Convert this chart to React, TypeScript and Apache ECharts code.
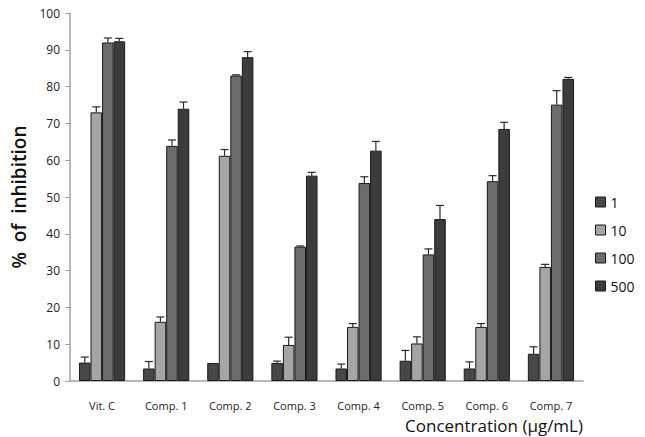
import React, { useEffect, useRef } from "react";
import * as echarts from "echarts";

const categories = ["Vit. C", "Comp. 1", "Comp. 2", "Comp. 3", "Comp. 4", "Comp. 5", "Comp. 6", "Comp. 7"];
const seriesNames = ["1", "10", "100", "500"];
const values1 = [5.0, 3.4, 4.9, 4.9, 3.4, 5.5, 3.4, 7.4];
const values10 = [73.0, 16.1, 61.2, 9.8, 14.7, 10.2, 14.7, 31.0];
const values100 = [92.0, 63.9, 83.0, 36.5, 53.8, 34.4, 54.3, 75.1];
const values500 = [92.3, 74.0, 88.0, 55.8, 62.6, 44.0, 68.5, 82.1];
const err1 = [1.5, 1.9, 0, 0.5, 1.2, 2.8, 1.8, 1.9];
const err10 = [1.5, 1.3, 1.7, 2.1, 0.9, 1.8, 0.9, 0.7];
const err100 = [1.2, 1.6, 0.2, 0.2, 1.7, 1.5, 1.5, 3.8];
const err500 = [0.8, 1.8, 1.5, 0.9, 2.5, 3.7, 1.8, 0.4];
const yTicks = [0, 10, 20, 30, 40, 50, 60, 70, 80, 90, 100];

const allValues = [values1, values10, values100, values500];
const allErrors = [err1, err10, err100, err500];
const colors = ["#484848", "#a5a5a5", "#6c6c6c", "#3c3c3c"];
const CAT_GAP = 0.28;
const FONT = "'Open Sans', 'Noto Sans', sans-serif";

export default function App() {
  const ref = useRef<HTMLDivElement>(null);
  useEffect(() => {
    if (!ref.current) return;
    const chart = echarts.init(ref.current, null, { renderer: "svg" });
    const barSeries = seriesNames.map((name, s) => ({
      name,
      type: "bar",
      data: allValues[s],
      barGap: "0%",
      barCategoryGap: CAT_GAP * 100 + "%",
      itemStyle: { color: colors[s], borderColor: "#1a1a1a", borderWidth: 1 },
      z: 2,
    }));
    const errSeries = seriesNames.map((name, s) => ({
      name: name + "_err",
      type: "custom",
      z: 5,
      data: allValues[s].map((v, i) => [i, v, allErrors[s][i]]),
      renderItem: (params: any, api: any) => {
        const e = api.value(2);
        if (!e) return null;
        const base = api.coord([api.value(0), api.value(1)]);
        const top = api.coord([api.value(0), api.value(1) + e]);
        const band = api.size([1, 0])[0];
        const bw = (band * (1 - CAT_GAP)) / 4;
        const x = base[0] + (s - 1.5) * bw;
        return {
          type: "group",
          children: [
            { type: "line", shape: { x1: x, y1: base[1], x2: x, y2: top[1] }, style: { stroke: "#2a2a2a", lineWidth: 1.2 } },
            { type: "line", shape: { x1: x - 4, y1: top[1], x2: x + 4, y2: top[1] }, style: { stroke: "#2a2a2a", lineWidth: 1.2 } },
          ],
        };
      },
    }));
    chart.setOption({
      animation: false,
      backgroundColor: "#ffffff",
      grid: { left: 70, right: 62, top: 13, bottom: 56 },
      legend: {
        data: seriesNames,
        orient: "vertical",
        left: 590,
        top: 190,
        itemWidth: 10,
        itemHeight: 10,
        itemGap: 14,
        icon: "rect",
        textStyle: { fontSize: 14, color: "#111", fontFamily: FONT },
        itemStyle: { borderColor: "#1a1a1a", borderWidth: 1 },
      },
      xAxis: {
        type: "category",
        data: categories,
        axisLine: { lineStyle: { color: "#a0a0a0", width: 1.5 } },
        axisTick: { show: false },
        axisLabel: { fontSize: 11, color: "#222", fontFamily: FONT, margin: 19 },
        name: "Concentration (\u03bcg/mL)",
        nameLocation: "end",
        nameGap: 0,
        nameTextStyle: {
          fontSize: 17,
          color: "#111",
          fontFamily: FONT,
          align: "right",
          verticalAlign: "top",
          padding: [36, 0, 0, 0],
        },
      },
      yAxis: {
        type: "value",
        min: 0,
        max: 100,
        interval: 10,
        axisLine: { show: true, lineStyle: { color: "#a0a0a0", width: 1.5 } },
        axisTick: { show: true, length: 5, lineStyle: { color: "#a0a0a0" } },
        splitLine: { show: false },
        axisLabel: {
          fontSize: 12,
          color: "#222",
          fontFamily: FONT,
          margin: 10,
          formatter: (v: number) => (yTicks.includes(v) ? String(v) : ""),
        },
        name: "%  of  inhibition",
        nameLocation: "middle",
        nameGap: 33,
        nameTextStyle: { fontSize: 19, fontWeight: 600, color: "#111", fontFamily: FONT },
      },
      series: [...barSeries, ...errSeries],
    });
    return () => chart.dispose();
  }, []);
  return <div ref={ref} style={{ width: 645, height: 437, position: "absolute", left: 0, top: 0 }} />;
}
